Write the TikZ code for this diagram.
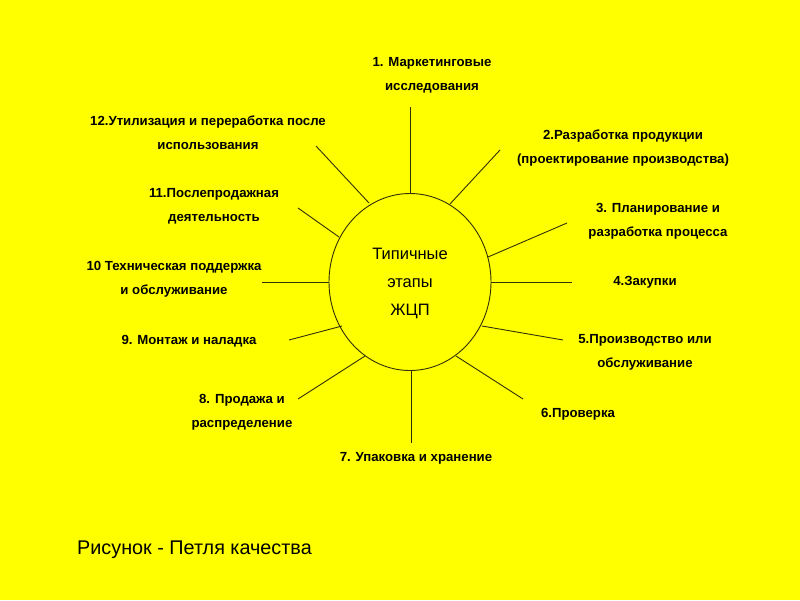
\documentclass[tikz,border=0pt]{standalone}
\usepackage{fontspec}
\setmainfont{Liberation Sans}
\usetikzlibrary{shapes.geometric}
\definecolor{bgyellow}{RGB}{255,255,0}
\definecolor{spoke}{RGB}{50,50,10}
\tikzset{
  lbl/.style={font=\fontsize{13.2}{23.6}\selectfont\bfseries, align=center, inner sep=0pt, text=black},
  ray/.style={draw=spoke, line width=0.9pt},
}
\begin{document}
\begin{tikzpicture}[x=1pt,y=-1pt]
\fill[bgyellow] (0,0) rectangle (800,600);
\useasboundingbox (0,0) rectangle (800,600);
\node[ellipse, draw=spoke, line width=0.9pt, minimum width=162pt, minimum height=177pt, inner sep=0pt] (c) at (410,282) {};
\node[font=\fontsize{16.5}{28}\selectfont, align=center, inner sep=0pt] (ct) at (410,283) {Типичные\\этапы\\ЖЦП};
% spoke ends
\coordinate (i1) at (410,194); \coordinate (o1) at (410,107);
\coordinate (i2) at (450,204); \coordinate (o2) at (500,150);
\coordinate (i3) at (488,257); \coordinate (o3) at (567,223);
\coordinate (i4) at (491,282); \coordinate (o4) at (572,282);
\coordinate (i5) at (482,326); \coordinate (o5) at (563,340);
\coordinate (i6) at (456,356); \coordinate (o6) at (523,399);
\coordinate (i7) at (411,370); \coordinate (o7) at (411,443);
\coordinate (i8) at (365,356); \coordinate (o8) at (298,399);
\coordinate (i9) at (342,326); \coordinate (o9) at (289,340);
\coordinate (i10) at (329,282); \coordinate (o10) at (262,282);
\coordinate (i11) at (339,237); \coordinate (o11) at (298,208);
\coordinate (i12) at (369,203); \coordinate (o12) at (316,146);
\foreach \k in {1,...,12} { \draw[ray] (i\k) -- (o\k); }
% labels
\node[lbl] (l1) at (432,75.5) {1. Маркетинговые\\исследования};
\node[lbl] (l2) at (623,148) {2.Разработка продукции\\(проектирование производства)};
\node[lbl] (l3) at (658,221.5) {3. Планирование и\\разработка процесса};
\node[lbl] (l4) at (645,282) {4.Закупки};
\node[lbl] (l5) at (645,352.5) {5.Производство или\\обслуживание};
\node[lbl] (l6) at (578,414) {6.Проверка};
\node[lbl] (l7) at (416,458) {7. Упаковка и хранение};
\node[lbl] (l8) at (242,412) {8. Продажа и\\распределение};
\node[lbl] (l9) at (189,341) {9. Монтаж и наладка};
\node[lbl] (l10) at (174,279.5) {10 Техническая поддержка\\и обслуживание};
\node[lbl] (l11) at (214,206) {11.Послепродажная\\деятельность};
\node[lbl] (l12) at (208,133) {12.Утилизация и переработка после\\использования};
\node[font=\fontsize{19.8}{22}\selectfont, anchor=west, inner sep=0pt] (cap) at (77,550) {Рисунок - Петля качества};
\end{tikzpicture}
\end{document}
